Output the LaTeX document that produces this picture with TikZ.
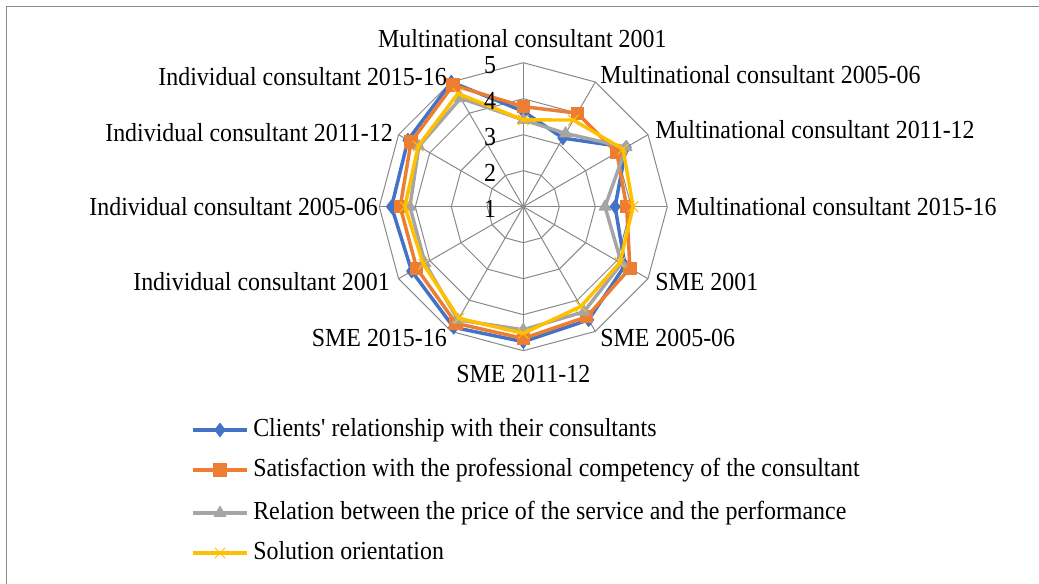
\documentclass[tikz,border=0pt]{standalone}
\usepackage{fontspec}
\setmainfont{Liberation Serif}[FakeStretch=0.92]
\usepackage{xcolor}
\usetikzlibrary{plotmarks}

\definecolor{gridgray}{RGB}{137,137,137}
\definecolor{clientblue}{RGB}{68,114,196}
\definecolor{satorange}{RGB}{237,125,49}
\definecolor{pricegray}{RGB}{165,165,165}
\definecolor{solyellow}{RGB}{255,192,0}

\begin{document}
\begin{tikzpicture}[x = 0.75pt, y = 0.75pt,
						gridline/.style = {draw = gridgray, line width = 0.75pt},
						chartlabel/.style = {inner sep = 0pt, font = \fontsize{19.5pt}{23pt}\selectfont},
						series/.style = {line width = 2.6pt, line join = round, draw = #1,
							mark options = {solid, fill = #1, draw = #1, line width = 0.75pt}},
						]
	
		% Picture size and frame
		\useasboundingbox (-523.3, -377.3) rectangle (515.7, 206.7);
		\draw[gridline] (-516.8, -377.3) -- (-516.8, 199.7) -- (515.7, 199.7);
		
		\begin{scope}[x = 27pt, y = 27pt]
		
			% Rings (center is 1, outer ring is 5)
			\draw[gridline] (90:1) -- (60:1) -- (30:1) -- (0:1) -- (-30:1) -- (-60:1) -- (-90:1) -- (-120:1) -- (-150:1) -- (180:1) -- (150:1) -- (120:1) -- cycle;
			\draw[gridline] (90:2) -- (60:2) -- (30:2) -- (0:2) -- (-30:2) -- (-60:2) -- (-90:2) -- (-120:2) -- (-150:2) -- (180:2) -- (150:2) -- (120:2) -- cycle;
			\draw[gridline] (90:3) -- (60:3) -- (30:3) -- (0:3) -- (-30:3) -- (-60:3) -- (-90:3) -- (-120:3) -- (-150:3) -- (180:3) -- (150:3) -- (120:3) -- cycle;
			\draw[gridline] (90:4) -- (60:4) -- (30:4) -- (0:4) -- (-30:4) -- (-60:4) -- (-90:4) -- (-120:4) -- (-150:4) -- (180:4) -- (150:4) -- (120:4) -- cycle;
			
			% Spokes
			\coordinate (center) at (0, 0);
			\draw[gridline] (center) -- (90:4);
			\draw[gridline] (center) -- (60:4);
			\draw[gridline] (center) -- (30:4);
			\draw[gridline] (center) -- (0:4);
			\draw[gridline] (center) -- (-30:4);
			\draw[gridline] (center) -- (-60:4);
			\draw[gridline] (center) -- (-90:4);
			\draw[gridline] (center) -- (-120:4);
			\draw[gridline] (center) -- (-150:4);
			\draw[gridline] (center) -- (180:4);
			\draw[gridline] (center) -- (150:4);
			\draw[gridline] (center) -- (120:4);
			
			% Series (radius = value - 1)
			\draw[series = clientblue] plot[mark = diamond*, mark size = 5pt] coordinates {(90:2.65) (60:2.2) (30:3.3) (0:2.55) (-30:3.26) (-60:3.63) (-90:3.75) (-120:3.87) (-150:3.58) (180:3.66) (150:3.7) (120:4.0)} -- cycle;
			\draw[series = satorange] plot[mark = square*, mark size = 4.6pt] coordinates {(90:2.78) (60:3.0) (30:3.0) (0:2.87) (-30:3.42) (-60:3.53) (-90:3.66) (-120:3.74) (-150:3.42) (180:3.42) (150:3.6) (120:3.9)} -- cycle;
			\draw[series = pricegray] plot[mark = triangle*, mark size = 5pt] coordinates {(90:2.41) (60:2.35) (30:3.3) (0:2.27) (-30:3.15) (-60:3.37) (-90:3.42) (-120:3.63) (-150:3.15) (180:3.15) (150:3.35) (120:3.48)} -- cycle;
			\draw[series = solyellow] plot[mark = x, mark size = 5.5pt] coordinates {(90:2.41) (60:2.78) (30:3.2) (0:3.05) (-30:3.1) (-60:3.2) (-90:3.52) (-120:3.58) (-150:3.2) (180:3.29) (150:3.37) (120:3.63)} -- cycle;
			
		\end{scope}
		
		% Value labels
		\node[chartlabel, anchor = east] (val1) at (-27, -2.5) {1};
		\node[chartlabel, anchor = east] (val2) at (-27, 33.5) {2};
		\node[chartlabel, anchor = east] (val3) at (-27, 69.5) {3};
		\node[chartlabel, anchor = east] (val4) at (-27, 105.5) {4};
		\node[chartlabel, anchor = east] (val5) at (-27, 141.5) {5};
		
		% Category labels
		\node[chartlabel] (mc2001) at (-1, 168) {Multinational consultant 2001};
		\node[chartlabel, anchor = west] (mc2005) at (76.7, 132) {Multinational consultant 2005-06};
		\node[chartlabel, anchor = west] (mc2011) at (131.7, 77) {Multinational consultant 2011-12};
		\node[chartlabel, anchor = west] (mc2015) at (152.7, 0) {Multinational consultant 2015-16};
		\node[chartlabel, anchor = west] (sme2001) at (131.7, -75) {SME 2001};
		\node[chartlabel, anchor = west] (sme2005) at (76.7, -131) {SME 2005-06};
		\node[chartlabel] (sme2011) at (0, -167) {SME 2011-12};
		\node[chartlabel, anchor = east] (sme2015) at (-76.3, -131) {SME 2015-16};
		\node[chartlabel, anchor = east] (ic2001) at (-133.3, -75) {Individual consultant 2001};
		\node[chartlabel, anchor = east] (ic2005) at (-145.3, 0) {Individual consultant 2005-06};
		\node[chartlabel, anchor = east] (ic2011) at (-130.3, 74) {Individual consultant 2011-12};
		\node[chartlabel, anchor = east] (ic2015) at (-76.3, 130) {Individual consultant 2015-16};
		
		% Legend
		\draw[series = clientblue] (-330.3, -223.3) -- (-276.3, -223.3);
		\draw[series = satorange] (-330.3, -263.3) -- (-276.3, -263.3);
		\draw[series = pricegray] (-330.3, -306.3) -- (-276.3, -306.3);
		\draw[series = solyellow] (-330.3, -346.3) -- (-276.3, -346.3);
		\draw[series = clientblue] plot[mark = diamond*, mark size = 5pt] coordinates {(-303.3, -223.3)};
		\draw[series = satorange] plot[mark = square*, mark size = 4.6pt] coordinates {(-303.3, -263.3)};
		\draw[series = pricegray] plot[mark = triangle*, mark size = 5pt] coordinates {(-303.3, -306.3)};
		\draw[series = solyellow] plot[mark = x, mark size = 5.5pt] coordinates {(-303.3, -346.3)};
		\node[chartlabel, anchor = base west] (legclient) at (-270.3, -230.3) {Clients\textquotesingle{} relationship with their consultants};
		\node[chartlabel, anchor = base west] (legsat) at (-270.3, -270.3) {Satisfaction with the professional competency of the consultant};
		\node[chartlabel, anchor = base west] (legprice) at (-270.3, -313.3) {Relation between the price of the service and the performance};
		\node[chartlabel, anchor = base west] (legsol) at (-270.3, -353.3) {Solution orientation};
		
	\end{tikzpicture}
\end{document}
